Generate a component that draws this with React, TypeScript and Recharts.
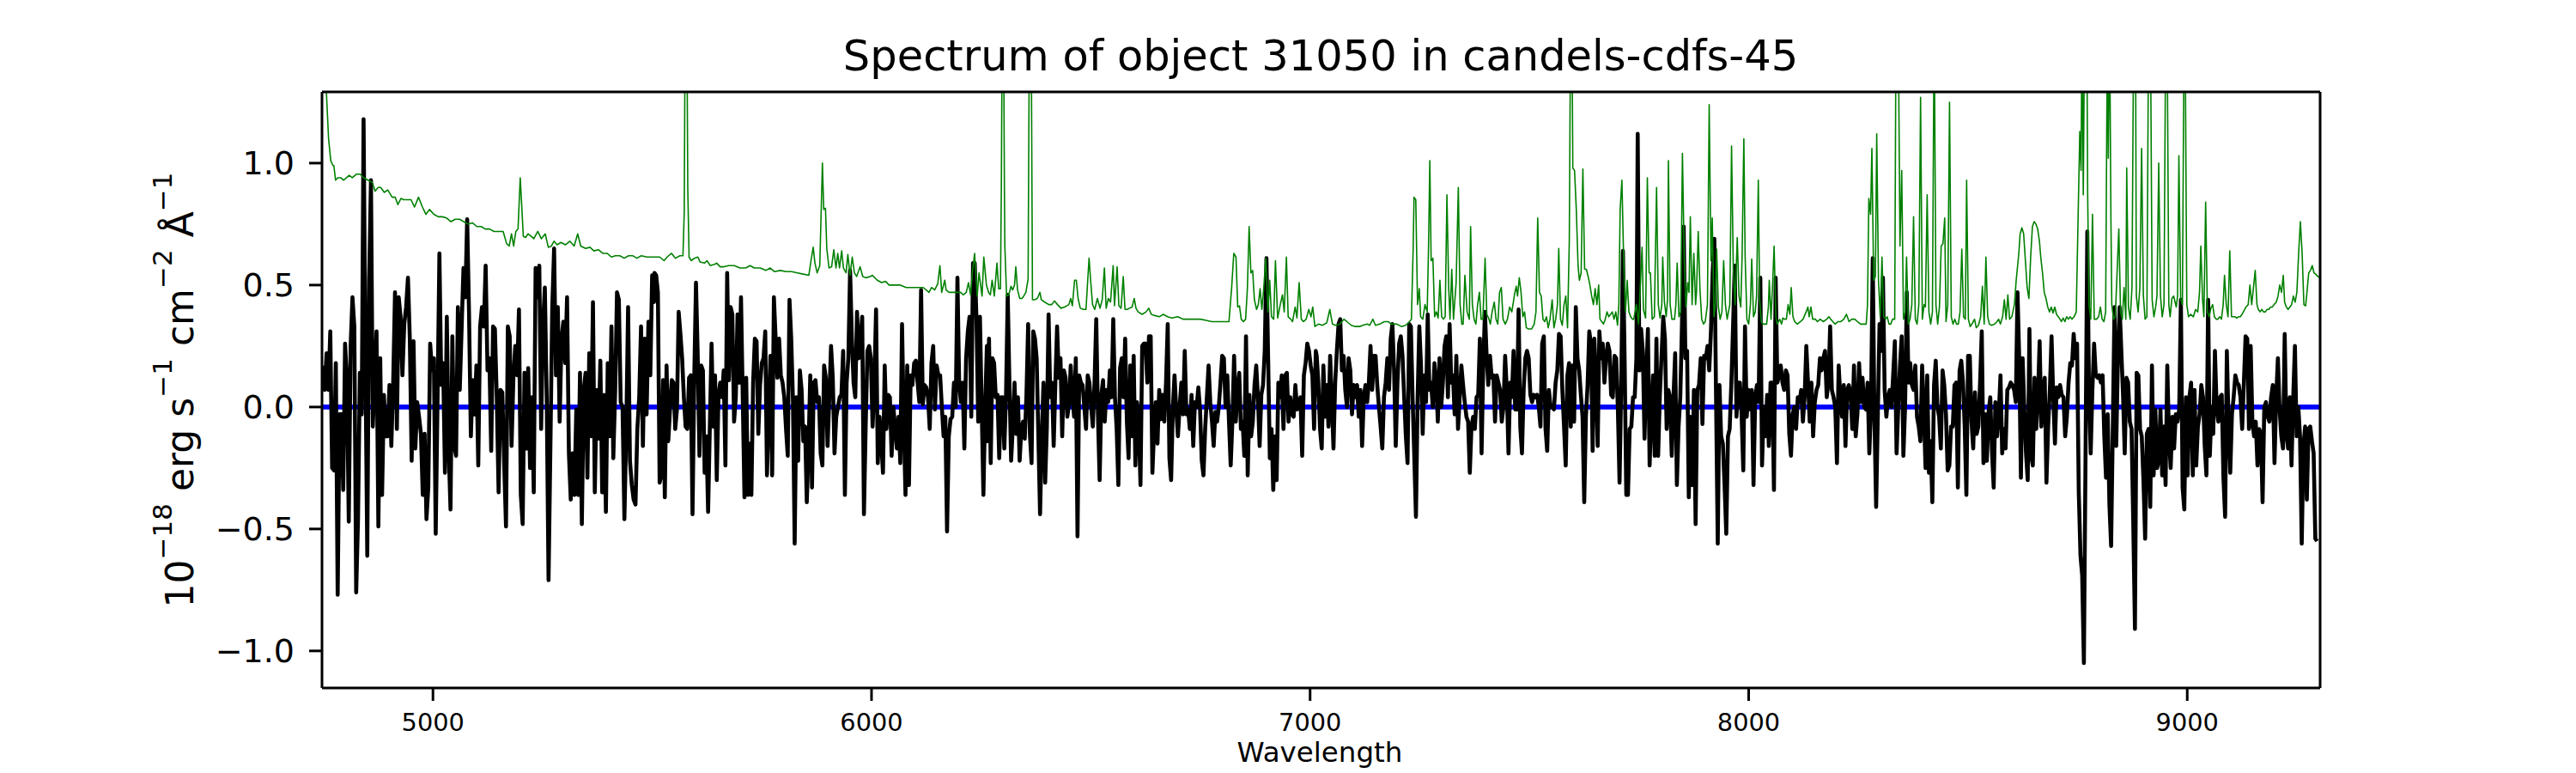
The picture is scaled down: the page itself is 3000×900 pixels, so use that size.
import { Line, LineChart, XAxis, YAxis } from 'recharts';

const FONT = '"DejaVu Sans", Verdana, sans-serif';

const X_RANGE = [4747, 9303];
const Y_RANGE = [-1.152, 1.292];
const X_TICKS = [5000, 6000, 7000, 8000, 9000];
const Y_TICKS = [-1, -0.5, 0, 0.5, 1];

// flux (black), read in six stretches; each stretch is sampled evenly over its span
const FLUX_SPANS = [
  [4749, 5504],
  [5505, 6263],
  [6264, 7013],
  [7015, 7744],
  [7747, 8512],
  [8516, 9296]
];

const FLUX_1 = [
  0.17, 0.07, 0.22, 0.07, 0.31, -0.25, -0.26, 0.18, -0.77, -0.03, -0.03, -0.34, 0.26, 0.12, -0.47, 0.25, 0.45, 0.33,
  -0.76, -0.46, 0.14, -0.03, 1.18, 0.2, -0.61, 0.52, 0.93, -0.08, 0.12, 0.31, -0.49, 0.2, -0.36, 0.05, -0.12, -0.12,
  0.09, -0.16, 0.1, 0.47, -0.09, 0.45, 0.37, 0.13, 0.34, 0.41, 0.53, 0.28, -0.22, 0.27, -0.17, 0.02, -0.04, -0.11,
  -0.36, -0.11, -0.46, -0.33, 0.26, 0.15, 0.2, -0.52, 0.04, 0.63, 0.09, 0.18, -0.27, 0.37, -0.17, -0.42, 0.29, -0.16,
  -0.2, 0.41, 0.07, 0.32, 0.57, 0.45, 0.77, 0.39, -0.12, 0.11, -0.03, 0.17, -0.24, 0.33, 0.41, 0.33, 0.58, 0.15, 0.2,
  -0.18, 0.33, 0.32, 0.04, -0.35, 0.07, 0.06, -0.23, -0.49, 0.33, 0.29, -0.16, 0.12, 0.25, 0.13, 0.4, -0.36, -0.48,
  0.14, -0.17, 0.16, -0.25, 0.04, -0.35, 0.57, 0.45, 0.58, -0.09, 0.34, 0.49, 0.04, -0.71, -0.16, 0.41, 0.65, 0.13,
  0.41, -0.06, 0.28, 0.35, 0.18, 0.45, -0.19, -0.38, -0.19, -0.36, -0.01, -0.36, 0.14, -0.48, 0.07, 0.14, -0.29, 0.22,
  -0.12, 0.43, -0.35, 0.07, -0.13, 0.19, -0.35, 0.05, -0.43, 0.18, -0.12, 0.33, -0.21, 0.06, 0.47, 0.44, 0.02, 0.0,
  -0.46, -0.1, 0.41, -0.22, -0.32, -0.38, -0.4, -0.09, 0.04, 0.33, -0.16, 0.28, -0.03, 0.35, 0.13, 0.54, 0.43
];

const FLUX_2 = [
  0.55, 0.54, 0.47, -0.31, -0.28, 0.11, -0.37, 0.17, -0.14, -0.01, 0.11, 0.1, -0.09, -0.01, 0.39, 0.3, 0.2, 0.04,
  -0.08, -0.09, 0.12, 0.13, -0.44, 0.12, 0.51, 0.21, -0.2, 0.17, 0.15, -0.27, -0.12, -0.43, -0.08, 0.26, -0.08, 0.13,
  -0.3, 0.05, 0.1, 0.04, 0.15, -0.24, 0.55, 0.11, 0.41, 0.38, -0.06, 0.04, 0.38, 0.1, 0.45, 0.04, -0.37, 0.12, -0.36,
  -0.15, -0.36, 0.1, 0.28, 0.27, -0.11, 0.09, 0.18, 0.2, 0.31, -0.28, -0.02, 0.21, -0.28, 0.45, 0.28, 0.12, 0.28, 0.13,
  0.1, 0.04, -0.09, -0.2, 0.44, 0.28, 0.03, -0.56, 0.04, -0.22, 0.15, 0.07, -0.14, -0.08, -0.39, -0.17, 0.13, -0.33,
  0.1, 0.11, 0.02, 0.04, -0.19, -0.24, 0.17, 0.12, -0.16, 0.04, 0.25, 0.12, -0.19, -0.04, 0.0, 0.04, 0.05, 0.23, -0.36,
  0.1, 0.2, 0.56, 0.29, 0.1, 0.04, 0.39, 0.2, 0.28, 0.37, -0.44, -0.08, 0.23, 0.25, 0.2, -0.08, 0.09, 0.4, -0.23,
  -0.04, -0.14, -0.27, 0.17, -0.09, 0.05, 0.04, -0.2, 0.0, -0.08, -0.17, -0.04, -0.23, 0.34, -0.06, -0.36, 0.17, -0.32,
  0.13, 0.09, 0.18, 0.19, 0.1, 0.02, 0.48, 0.01, 0.09, 0.08, 0.04, -0.09, 0.18, 0.25, -0.01, 0.17, 0.13, 0.13, 0.0,
  -0.12, -0.04, -0.51, -0.12, -0.05, -0.04, 0.1, 0.0, 0.53, 0.1, 0.02, 0.1, -0.17, 0.2, 0.31, 0.37, -0.04, 0.59, 0.59,
  0.36, -0.06, 0.37, 0.0, -0.36, 0.0, 0.25
];

const FLUX_3 = [
  -0.14, 0.28, -0.23, 0.2, 0.18, 0.04, 0.05, -0.21, 0.04, 0.04, -0.17, 0.05, 0.46, 0.1, -0.22, -0.08, 0.1, -0.11, 0.04,
  -0.22, -0.09, -0.06, -0.13, 0.05, 0.34, -0.11, -0.23, 0.31, 0.28, 0.2, -0.12, -0.44, -0.12, 0.1, -0.31, -0.08, 0.38,
  0.04, 0.1, -0.16, 0.1, 0.33, 0.12, 0.2, -0.12, 0.15, 0.12, -0.04, 0.01, 0.17, 0.04, -0.04, 0.2, -0.53, 0.13, 0.1,
  0.09, 0.0, -0.09, 0.13, 0.1, 0.0, -0.08, 0.1, 0.36, -0.03, -0.3, 0.05, 0.11, -0.06, 0.07, 0.02, 0.15, 0.04, 0.36,
  0.04, -0.09, -0.32, 0.16, 0.2, 0.04, 0.28, -0.06, -0.21, 0.17, -0.12, 0.21, -0.24, 0.02, -0.07, -0.32, 0.25, 0.26,
  0.26, 0.1, 0.29, 0.29, -0.27, -0.09, 0.02, -0.15, 0.07, -0.05, 0.05, -0.06, 0.1, 0.34, -0.21, -0.3, -0.01, 0.13,
  -0.01, -0.12, 0.0, 0.1, -0.03, 0.23, -0.03, -0.01, -0.09, 0.05, -0.16, 0.02, 0.0, 0.08, -0.01, -0.22, -0.28, -0.09,
  0.04, 0.17, 0.02, -0.06, -0.16, -0.02, -0.06, 0.0, 0.1, 0.21, 0.2, 0.0, 0.13, -0.06, -0.24, -0.06, 0.21, -0.06, 0.07,
  0.14, -0.09, -0.06, -0.2, 0.29, -0.28, 0.05, -0.12, -0.06, 0.09, 0.17, 0.04, -0.16, 0.05, 0.09, 0.23, 0.61, 0.2,
  -0.21, -0.09, -0.34, -0.12, -0.3, 0.1, 0.04, 0.13, -0.09, 0.13, 0.14, -0.06, 0.04, -0.03, -0.04, 0.09, -0.01, 0.0,
  0.04, -0.2, 0.13, 0.18, 0.26, 0.23, 0.17, 0.13, -0.09, 0.23
];

const FLUX_4 = [
  0.21, 0.1, -0.09, -0.17, 0.17, -0.04, 0.09, -0.08, 0.21, 0.02, -0.17, 0.1, 0.23, 0.34, 0.36, 0.15, 0.21, 0.07, 0.0,
  0.2, 0.15, -0.03, 0.09, 0.04, 0.09, -0.04, 0.07, -0.16, 0.04, 0.09, 0.02, 0.1, 0.25, 0.07, 0.21, 0.21, 0.09, 0.0,
  -0.08, -0.17, 0.04, 0.1, 0.2, 0.07, 0.28, 0.34, 0.15, -0.16, 0.1, 0.26, 0.29, 0.21, 0.04, -0.12, -0.23, 0.34, 0.33,
  0.04, -0.2, -0.45, 0.04, 0.33, 0.17, -0.11, 0.13, 0.02, 0.38, 0.07, 0.1, 0.0, 0.18, 0.1, -0.06, 0.2, 0.0, 0.1, 0.25,
  0.29, 0.04, 0.34, 0.1, 0.13, -0.03, 0.21, -0.09, 0.04, 0.17, 0.09, 0.02, -0.04, -0.06, -0.27, -0.08, -0.04, -0.09,
  0.04, 0.05, 0.28, -0.19, 0.17, 0.39, 0.21, 0.09, 0.21, 0.12, 0.13, -0.06, 0.13, 0.1, 0.07, -0.06, 0.0, 0.21, 0.07,
  -0.19, 0.1, 0.04, 0.23, -0.01, -0.01, 0.4, -0.08, -0.19, 0.07, 0.2, 0.23, 0.2, 0.05, 0.02, 0.05, 0.04, 0.05, 0.0,
  -0.08, 0.26, 0.29, -0.09, -0.18, 0.07, 0.0, 0.0, -0.01, 0.1, 0.15, 0.3, 0.29, 0.07, -0.08, -0.24, 0.13, 0.18, -0.08,
  0.17, -0.06, 0.41, 0.2, 0.15, 0.05, -0.04, -0.39, -0.04, 0.09, 0.31, 0.26, -0.18, 0.28, 0.12, -0.16, 0.31, 0.2, 0.26,
  0.1, 0.2, 0.26, 0.23, 0.05, 0.04, 0.21, 0.2, -0.01, -0.31, 0.1, 0.64, 0.2, -0.36, -0.36, -0.09, -0.08, 0.04, 0.04, 0.2
];

const FLUX_5 = [
  1.12, 0.15, 0.32, 0.23, -0.13, 0.13, 0.32, -0.24, -0.03, 0.13, -0.2, 0.28, -0.2, 0.05, 0.21, 0.37, 0.28, -0.09, 0.07,
  0.04, -0.2, 0.04, 0.22, -0.32, -0.08, 0.04, 0.34, 0.74, 0.2, 0.23, -0.37, -0.04, -0.32, 0.07, -0.48, 0.07, 0.09, 0.2,
  -0.07, 0.21, 0.2, 0.25, 0.15, 0.31, 0.55, 0.69, 0.04, -0.56, 0.09, -0.12, -0.15, -0.32, -0.52, -0.12, -0.09, 0.1,
  0.33, 0.58, -0.04, 0.1, 0.1, -0.03, -0.26, 0.33, -0.04, 0.07, -0.01, 0.07, -0.32, 0.04, 0.09, 0.02, 0.53, -0.24, 0.0,
  -0.12, 0.05, -0.16, 0.1, 0.1, -0.34, 0.53, 0.1, 0.13, 0.17, 0.1, 0.07, 0.15, 0.13, -0.11, -0.2, -0.03, 0.0, -0.09,
  0.04, 0.02, 0.07, -0.06, 0.04, 0.25, 0.1, -0.06, 0.1, -0.12, 0.02, 0.07, 0.09, 0.2, 0.15, 0.2, 0.23, 0.04, 0.1, 0.33,
  0.07, 0.04, 0.0, -0.23, 0.17, 0.04, -0.04, 0.09, -0.16, 0.07, 0.09, 0.05, -0.09, 0.17, -0.12, -0.03, 0.18, 0.02,
  0.12, 0.0, -0.01, 0.1, -0.19, 0.0, 0.61, -0.04, -0.41, -0.03, 0.34, 0.23, 0.53, 0.07, -0.04, 0.04, 0.07, 0.0, 0.13,
  0.27, -0.19, 0.0, 0.17, 0.29, -0.2, 0.0, 0.47, 0.1, 0.18, 0.09, 0.07, 0.17, -0.04, -0.08, -0.14, 0.17, -0.01, -0.25,
  0.13, -0.27, -0.14, -0.39, 0.09, 0.19, 0.0, -0.04, -0.17, 0.15, 0.09, -0.03, -0.26, -0.24, -0.08, -0.08, 0.09, 0.1,
  -0.33, 0.15, 0.19, 0.1, -0.08, -0.36, 0.21, 0.21, -0.06, -0.17
];

const FLUX_6 = [
  0.06, -0.11, -0.08, 0.1, 0.31, -0.23, -0.03, -0.22, -0.02, 0.04, -0.18, -0.33, 0.02, -0.12, -0.03, 0.13, -0.19,
  -0.09, -0.17, 0.07, 0.08, 0.1, 0.09, 0.07, 0.02, 0.47, 0.2, -0.29, 0.2, -0.01, -0.19, -0.3, 0.32, -0.2, -0.24, 0.12,
  -0.09, 0.04, 0.27, -0.08, 0.07, 0.12, -0.31, -0.08, 0.07, 0.29, 0.04, -0.15, 0.08, 0.04, 0.09, 0.05, 0.04, -0.12,
  -0.04, 0.1, 0.18, 0.17, 0.3, 0.2, 0.26, -0.35, -0.61, -0.69, -1.05, -0.17, 0.72, 0.07, -0.19, 0.07, 0.26, 0.13, 0.12,
  0.13, 0.1, 0.13, -0.12, -0.29, -0.03, -0.4, -0.57, -0.08, 0.41, -0.16, 0.2, 0.41, 0.23, 0.05, -0.19, 0.12, 0.1,
  -0.06, -0.09, -0.47, -0.91, 0.14, 0.13, -0.09, -0.12, -0.3, -0.54, -0.11, -0.09, -0.41, 0.17, -0.28, -0.01, -0.25,
  -0.22, -0.01, -0.28, -0.08, -0.32, 0.17, -0.12, -0.25, -0.04, -0.17, -0.03, -0.06, -0.01, 0.44, -0.33, -0.42, 0.04,
  -0.28, 0.04, 0.1, -0.28, 0.07, -0.24, -0.08, -0.03, 0.09, 0.04, -0.16, -0.28, 0.44, -0.2, 0.0, -0.11, 0.23, 0.0,
  -0.06, 0.04, 0.05, -0.29, -0.45, 0.23, -0.06, -0.27, -0.03, 0.04, 0.13, 0.1, 0.09, 0.04, -0.09, 0.1, 0.29, 0.28,
  -0.09, 0.25, -0.06, -0.12, -0.06, -0.24, -0.09, -0.11, -0.39, 0.0, 0.02, -0.04, -0.06, 0.04, 0.09, -0.23, 0.04, 0.2,
  -0.01, -0.12, -0.17, 0.3, -0.11, -0.17, 0.04, -0.24, 0.04, 0.25, -0.12, 0.0, -0.12, -0.56, -0.16, -0.08, -0.38,
  -0.09, -0.08, -0.14, -0.19, -0.54, -0.55
];

// noise / sky spectrum (green), [wavelength, value]
const SKY_1 = [
  [4747, 1.6], [4757, 1.29], [4762, 1.1], [4767, 1.01], [4772, 0.99], [4774, 0.99], [4778, 0.93], [4783, 0.94],
  [4790, 0.94], [4796, 0.93], [4803, 0.94], [4809, 0.95], [4816, 0.94], [4826, 0.955], [4834, 0.955], [4842, 0.94],
  [4852, 0.93], [4862, 0.92], [4868, 0.885], [4875, 0.9], [4881, 0.9], [4889, 0.88], [4897, 0.89], [4907, 0.86],
  [4914, 0.86], [4920, 0.83], [4927, 0.855], [4933, 0.85], [4940, 0.85], [4950, 0.85], [4958, 0.82], [4967, 0.86],
  [4976, 0.82], [4984, 0.79], [4992, 0.81], [5002, 0.79], [5012, 0.78], [5021, 0.78], [5031, 0.775], [5041, 0.76],
  [5051, 0.77], [5061, 0.77], [5070, 0.76], [5080, 0.75], [5090, 0.755], [5100, 0.74], [5110, 0.74], [5119, 0.73],
  [5129, 0.73], [5139, 0.72], [5149, 0.72], [5160, 0.72], [5168, 0.67], [5174, 0.66], [5179, 0.71], [5184, 0.66],
  [5189, 0.72], [5194, 0.73], [5199, 0.94], [5202, 0.84], [5206, 0.7], [5211, 0.695], [5217, 0.71], [5224, 0.7],
  [5230, 0.69], [5239, 0.72], [5247, 0.69], [5256, 0.71], [5263, 0.655], [5270, 0.66], [5276, 0.68], [5283, 0.665],
  [5292, 0.675], [5302, 0.665], [5312, 0.68], [5322, 0.66], [5330, 0.71], [5337, 0.66], [5348, 0.65], [5358, 0.655],
  [5367, 0.64], [5377, 0.645], [5387, 0.63], [5397, 0.63], [5407, 0.615], [5416, 0.62], [5426, 0.62], [5436, 0.61],
  [5446, 0.62], [5456, 0.62], [5465, 0.61], [5475, 0.62], [5488, 0.615], [5501, 0.615]
];

const SKY_2 = [
  [5517, 0.615], [5527, 0.6], [5534, 0.615], [5544, 0.63], [5553, 0.61], [5563, 0.62], [5570, 0.62], [5573, 0.8],
  [5575, 1.6], [5577, 1.6], [5579, 1.6], [5581, 0.9], [5584, 0.615], [5589, 0.6], [5596, 0.61], [5604, 0.615],
  [5609, 0.595], [5619, 0.59], [5625, 0.6], [5632, 0.58], [5642, 0.585], [5647, 0.59], [5655, 0.575], [5664, 0.575],
  [5674, 0.58], [5687, 0.58], [5700, 0.57], [5713, 0.57], [5723, 0.58], [5733, 0.57], [5746, 0.57], [5759, 0.56],
  [5769, 0.57], [5779, 0.555], [5792, 0.56], [5805, 0.555], [5818, 0.555], [5831, 0.55], [5844, 0.545], [5857, 0.54],
  [5862, 0.6], [5867, 0.655], [5871, 0.59], [5876, 0.55], [5882, 0.58], [5885, 0.79], [5888, 1.0], [5891, 0.81],
  [5895, 0.815], [5898, 0.65], [5903, 0.57], [5909, 0.575], [5914, 0.645], [5919, 0.57], [5923, 0.63], [5927, 0.57],
  [5932, 0.64], [5936, 0.57], [5942, 0.55], [5946, 0.625], [5951, 0.54], [5956, 0.615], [5961, 0.55], [5966, 0.535],
  [5974, 0.575], [5980, 0.535], [5987, 0.53], [5997, 0.535], [6002, 0.54], [6013, 0.52], [6023, 0.51], [6032, 0.515],
  [6040, 0.5], [6053, 0.5], [6066, 0.5], [6079, 0.49], [6092, 0.49], [6105, 0.49], [6118, 0.49], [6131, 0.47],
  [6137, 0.49], [6144, 0.48], [6151, 0.505], [6156, 0.58], [6160, 0.47], [6167, 0.52], [6170, 0.48], [6177, 0.47],
  [6186, 0.47], [6196, 0.47], [6203, 0.47], [6209, 0.46], [6216, 0.47], [6221, 0.51], [6226, 0.46], [6230, 0.55],
  [6235, 0.63], [6241, 0.455], [6245, 0.55], [6252, 0.455], [6256, 0.615], [6262, 0.5]
];

const SKY_3 = [
  [6267, 0.47], [6271, 0.46], [6275, 0.52], [6280, 0.455], [6286, 0.59], [6290, 0.485], [6294, 0.485], [6296, 0.9],
  [6298, 1.6], [6301, 1.6], [6303, 0.9], [6304, 0.66], [6308, 0.455], [6313, 0.46], [6318, 0.495], [6322, 0.48],
  [6326, 0.5], [6329, 0.575], [6333, 0.48], [6338, 0.445], [6343, 0.445], [6347, 0.455], [6352, 0.47], [6357, 0.525],
  [6360, 1.6], [6364, 1.6], [6367, 0.44], [6372, 0.44], [6378, 0.445], [6384, 0.47], [6387, 0.44], [6395, 0.43],
  [6404, 0.42], [6411, 0.42], [6417, 0.435], [6424, 0.42], [6432, 0.405], [6440, 0.41], [6450, 0.42], [6454, 0.445],
  [6458, 0.415], [6463, 0.52], [6467, 0.52], [6471, 0.445], [6476, 0.405], [6483, 0.4], [6489, 0.4], [6496, 0.61],
  [6500, 0.51], [6504, 0.42], [6509, 0.4], [6515, 0.445], [6521, 0.405], [6526, 0.44], [6531, 0.57], [6535, 0.405],
  [6540, 0.445], [6545, 0.43], [6551, 0.58], [6554, 0.415], [6560, 0.575], [6564, 0.415], [6569, 0.405], [6574, 0.535],
  [6578, 0.4], [6583, 0.4], [6588, 0.405], [6594, 0.41], [6599, 0.445], [6603, 0.405], [6608, 0.39], [6617, 0.38],
  [6626, 0.39], [6632, 0.405], [6638, 0.38], [6646, 0.375], [6656, 0.37], [6665, 0.38], [6675, 0.37], [6685, 0.365],
  [6698, 0.37], [6711, 0.36], [6724, 0.36], [6737, 0.36], [6750, 0.36], [6763, 0.355], [6776, 0.35], [6789, 0.35],
  [6802, 0.35], [6815, 0.35], [6821, 0.485], [6826, 0.63], [6831, 0.615], [6835, 0.41], [6839, 0.415], [6843, 0.36],
  [6848, 0.35], [6853, 0.36], [6857, 0.485], [6861, 0.74], [6865, 0.55], [6869, 0.56], [6873, 0.44], [6878, 0.4],
  [6882, 0.42], [6886, 0.485], [6890, 0.4], [6894, 0.48], [6899, 0.61], [6904, 0.39], [6908, 0.52], [6912, 0.37],
  [6917, 0.36], [6921, 0.6], [6926, 0.365], [6932, 0.42], [6937, 0.46], [6941, 0.39], [6946, 0.615], [6950, 0.37],
  [6956, 0.36], [6960, 0.35], [6966, 0.41], [6970, 0.365], [6975, 0.51], [6980, 0.36], [6985, 0.35], [6991, 0.36],
  [6997, 0.4], [7002, 0.37], [7006, 0.41], [7011, 0.33]
];

const SKY_4 = [
  [7019, 0.34], [7028, 0.335], [7038, 0.345], [7045, 0.4], [7051, 0.34], [7058, 0.335], [7068, 0.34], [7077, 0.36],
  [7084, 0.35], [7094, 0.335], [7103, 0.33], [7113, 0.33], [7120, 0.335], [7130, 0.34], [7136, 0.335], [7143, 0.36],
  [7149, 0.335], [7159, 0.34], [7169, 0.35], [7178, 0.35], [7185, 0.34], [7198, 0.34], [7208, 0.33], [7218, 0.335],
  [7224, 0.345], [7231, 0.36], [7235, 0.65], [7237, 0.86], [7241, 0.85], [7245, 0.42], [7249, 0.485], [7252, 0.37],
  [7257, 0.36], [7262, 0.42], [7267, 0.39], [7270, 0.65], [7273, 1.01], [7276, 0.6], [7280, 0.61], [7284, 0.37],
  [7288, 0.39], [7292, 0.365], [7296, 0.52], [7300, 0.37], [7304, 0.36], [7308, 0.37], [7312, 0.87], [7316, 0.49],
  [7319, 0.36], [7323, 0.565], [7327, 0.36], [7333, 0.51], [7338, 0.9], [7342, 0.42], [7346, 0.34], [7349, 0.34],
  [7353, 0.54], [7358, 0.39], [7363, 0.36], [7366, 0.74], [7370, 0.42], [7374, 0.36], [7378, 0.34], [7382, 0.42],
  [7386, 0.47], [7390, 0.36], [7394, 0.36], [7399, 0.61], [7403, 0.38], [7407, 0.365], [7411, 0.34], [7415, 0.39],
  [7420, 0.43], [7424, 0.36], [7428, 0.34], [7432, 0.47], [7436, 0.49], [7440, 0.36], [7445, 0.34], [7450, 0.36],
  [7455, 0.41], [7460, 0.39], [7466, 0.46], [7470, 0.495], [7473, 0.455], [7477, 0.53], [7481, 0.47], [7485, 0.37],
  [7489, 0.39], [7493, 0.325], [7498, 0.32], [7505, 0.32], [7511, 0.34], [7515, 0.39], [7519, 0.775], [7523, 0.47],
  [7527, 0.455], [7531, 0.36], [7535, 0.35], [7539, 0.37], [7543, 0.325], [7547, 0.36], [7552, 0.44], [7556, 0.325],
  [7560, 0.36], [7564, 0.42], [7567, 0.65], [7571, 0.36], [7575, 0.335], [7579, 0.42], [7583, 0.455], [7587, 0.325],
  [7591, 0.68], [7594, 1.6], [7597, 1.6], [7599, 0.98], [7603, 0.97], [7607, 0.81], [7611, 0.58], [7614, 0.52],
  [7618, 0.55], [7622, 0.976], [7626, 0.565], [7630, 0.565], [7634, 0.535], [7638, 0.5], [7642, 0.455], [7646, 0.42],
  [7650, 0.485], [7654, 0.42], [7658, 0.5], [7661, 0.36], [7665, 0.35], [7669, 0.34], [7673, 0.36], [7677, 0.39],
  [7681, 0.37], [7685, 0.38], [7689, 0.39], [7693, 0.36], [7697, 0.39], [7701, 0.335], [7704, 0.42], [7707, 0.81],
  [7711, 0.93], [7715, 0.6], [7719, 0.39], [7723, 0.52], [7727, 0.39], [7731, 0.37], [7735, 0.36], [7738, 0.36],
  [7744, 0.42], [7749, 0.34], [7753, 0.5], [7757, 0.655], [7760, 0.4]
];

const SKY_5 = [
  [7765, 0.365], [7769, 0.94], [7773, 0.55], [7776, 0.55], [7780, 0.36], [7785, 0.37], [7790, 0.9], [7794, 0.42],
  [7798, 0.365], [7802, 0.42], [7804, 0.615], [7808, 0.43], [7812, 0.37], [7815, 0.44], [7817, 1.01], [7821, 0.42],
  [7825, 0.36], [7831, 0.36], [7834, 0.42], [7837, 0.59], [7841, 0.37], [7845, 0.39], [7849, 1.04], [7853, 0.615],
  [7857, 0.41], [7861, 0.51], [7864, 0.47], [7867, 0.78], [7871, 0.42], [7875, 0.63], [7879, 0.42], [7881, 0.47],
  [7885, 0.72], [7889, 0.48], [7893, 0.36], [7897, 0.34], [7901, 0.35], [7906, 0.42], [7910, 1.24], [7914, 0.6],
  [7917, 0.775], [7921, 0.37], [7924, 0.42], [7927, 0.647], [7931, 0.41], [7935, 0.36], [7939, 0.39], [7943, 0.6],
  [7947, 0.42], [7951, 0.36], [7957, 0.42], [7961, 1.07], [7965, 0.57], [7969, 0.42], [7974, 0.695], [7978, 0.455],
  [7982, 0.41], [7985, 0.615], [7989, 1.1], [7992, 0.615], [7996, 0.36], [8000, 0.34], [8004, 0.42], [8007, 0.607],
  [8011, 0.37], [8015, 0.39], [8018, 0.455], [8022, 0.93], [8025, 0.44], [8029, 0.35], [8033, 0.34], [8037, 0.34],
  [8041, 0.34], [8045, 0.41], [8047, 0.52], [8051, 0.36], [8055, 0.52], [8058, 0.66], [8062, 0.37], [8065, 0.34],
  [8071, 0.36], [8075, 0.34], [8078, 0.365], [8082, 0.36], [8086, 0.36], [8090, 0.42], [8094, 0.38], [8097, 0.49],
  [8101, 0.37], [8105, 0.35], [8111, 0.34], [8118, 0.35], [8124, 0.36], [8131, 0.39], [8135, 0.41], [8138, 0.37],
  [8142, 0.41], [8146, 0.36], [8152, 0.36], [8157, 0.35], [8163, 0.36], [8170, 0.35], [8178, 0.36], [8183, 0.37],
  [8187, 0.36], [8192, 0.35], [8197, 0.34], [8204, 0.35], [8210, 0.35], [8217, 0.36], [8223, 0.38], [8229, 0.35],
  [8235, 0.36], [8242, 0.36], [8248, 0.35], [8255, 0.34], [8261, 0.34], [8268, 0.34], [8271, 0.42], [8274, 0.855],
  [8278, 0.79], [8281, 1.06], [8285, 0.52], [8289, 0.535], [8292, 1.12], [8296, 0.52], [8300, 0.37], [8304, 0.615],
  [8308, 0.37], [8312, 0.36], [8316, 0.37], [8320, 0.34], [8324, 0.34], [8328, 0.36], [8333, 0.36], [8336, 1.6],
  [8341, 1.6], [8345, 0.66], [8349, 0.97], [8353, 0.36], [8357, 0.39], [8360, 0.615], [8364, 0.34], [8368, 0.36],
  [8372, 0.42], [8376, 0.78], [8380, 0.36], [8384, 0.34], [8388, 0.42], [8392, 1.27], [8396, 0.36], [8400, 0.42],
  [8403, 0.41], [8407, 0.87], [8411, 0.39], [8415, 0.34], [8419, 0.39], [8423, 1.6], [8427, 0.42], [8431, 0.34],
  [8435, 0.41], [8439, 0.66], [8443, 0.67], [8447, 0.775], [8450, 0.35], [8454, 0.42], [8458, 1.25], [8462, 0.37],
  [8466, 0.34], [8470, 0.36], [8474, 0.34], [8478, 0.34], [8482, 0.39], [8486, 0.647], [8490, 0.37], [8494, 0.36],
  [8497, 0.93], [8501, 0.36], [8505, 0.33], [8509, 0.34]
];

const SKY_6 = [
  [8515, 0.36], [8519, 0.325], [8524, 0.335], [8529, 0.37], [8533, 0.495], [8537, 0.34], [8541, 0.615], [8545, 0.37],
  [8549, 0.34], [8554, 0.335], [8561, 0.34], [8566, 0.35], [8570, 0.36], [8574, 0.34], [8579, 0.37], [8583, 0.44],
  [8587, 0.36], [8591, 0.46], [8595, 0.36], [8600, 0.37], [8606, 0.42], [8610, 0.52], [8616, 0.63], [8619, 0.71],
  [8623, 0.735], [8627, 0.71], [8631, 0.6], [8635, 0.49], [8639, 0.445], [8643, 0.615], [8647, 0.74], [8651, 0.76],
  [8655, 0.75], [8659, 0.73], [8663, 0.68], [8666, 0.615], [8670, 0.55], [8674, 0.47], [8678, 0.445], [8682, 0.41],
  [8686, 0.39], [8690, 0.41], [8694, 0.385], [8698, 0.41], [8702, 0.38], [8706, 0.37], [8710, 0.36], [8713, 0.35],
  [8717, 0.365], [8721, 0.35], [8725, 0.37], [8729, 0.36], [8733, 0.37], [8737, 0.36], [8742, 0.37], [8747, 0.39],
  [8751, 0.76], [8755, 1.13], [8758, 0.97], [8760, 1.6], [8763, 0.87], [8766, 1.6], [8768, 1.6], [8771, 1.6],
  [8773, 0.87], [8776, 0.42], [8780, 0.36], [8784, 0.79], [8788, 0.36], [8793, 0.36], [8798, 0.37], [8802, 0.41],
  [8806, 0.36], [8810, 0.35], [8814, 0.39], [8818, 1.6], [8820, 1.02], [8823, 1.6], [8826, 0.77], [8828, 0.42],
  [8832, 0.36], [8836, 0.37], [8840, 0.55], [8844, 0.73], [8848, 0.39], [8852, 0.36], [8856, 0.49], [8860, 0.36],
  [8862, 0.98], [8866, 0.41], [8870, 0.36], [8874, 0.49], [8878, 1.6], [8882, 1.6], [8884, 0.455], [8888, 0.39],
  [8892, 0.49], [8896, 1.06], [8900, 0.455], [8904, 0.36], [8908, 0.37], [8912, 1.6], [8916, 1.6], [8920, 0.44],
  [8924, 0.37], [8928, 0.41], [8931, 0.455], [8935, 1.0], [8939, 0.455], [8943, 0.37], [8947, 0.42], [8951, 1.6],
  [8954, 1.6], [8958, 0.42], [8961, 0.37], [8965, 0.445], [8969, 0.455], [8975, 0.41], [8978, 0.455], [8981, 1.03],
  [8985, 0.44], [8989, 0.42], [8993, 1.6], [8995, 1.6], [8999, 0.42], [9003, 0.37], [9008, 0.38], [9014, 0.37],
  [9019, 0.4], [9024, 0.39], [9028, 0.47], [9031, 0.66], [9035, 0.44], [9038, 0.37], [9042, 0.84], [9046, 0.39],
  [9050, 0.37], [9054, 0.405], [9058, 0.42], [9062, 0.37], [9066, 0.36], [9070, 0.36], [9074, 0.37], [9078, 0.36],
  [9082, 0.42], [9085, 0.54], [9089, 0.42], [9093, 0.37], [9097, 0.64], [9101, 0.37], [9105, 0.37], [9109, 0.37],
  [9113, 0.365], [9117, 0.37], [9121, 0.37], [9125, 0.38], [9128, 0.39], [9134, 0.41], [9139, 0.42], [9143, 0.5],
  [9147, 0.42], [9151, 0.49], [9155, 0.56], [9159, 0.42], [9162, 0.4], [9166, 0.39], [9170, 0.4], [9174, 0.39],
  [9178, 0.39], [9182, 0.4], [9186, 0.4], [9190, 0.41], [9194, 0.41], [9198, 0.42], [9203, 0.43], [9207, 0.455],
  [9211, 0.5], [9215, 0.47], [9219, 0.54], [9222, 0.43], [9226, 0.41], [9230, 0.4], [9234, 0.41], [9238, 0.42],
  [9242, 0.455], [9246, 0.43], [9250, 0.47], [9254, 0.63], [9258, 0.76], [9262, 0.63], [9266, 0.42], [9270, 0.415],
  [9273, 0.47], [9277, 0.55], [9281, 0.56], [9285, 0.58], [9289, 0.55], [9293, 0.545], [9298, 0.535], [9303, 0.53]
];

// the zero level (blue)
const ZERO_LEVEL = [
  [4747, 0],
  [9303, 0]
];

const FLUX_PARTS = [FLUX_1, FLUX_2, FLUX_3, FLUX_4, FLUX_5, FLUX_6];
const SKY_PARTS = [SKY_1, SKY_2, SKY_3, SKY_4, SKY_5, SKY_6];

const fluxData = FLUX_PARTS.flatMap((vals, i) => {
  const [start, end] = FLUX_SPANS[i];
  const step = (end - start) / (vals.length - 1);
  return vals.map((f, j) => ({ w: start + j * step, f }));
});
const skyData = SKY_PARTS.flat().map(([w, f]) => ({ w, f }));
const zeroData = ZERO_LEVEL.map(([w, f]) => ({ w, f }));

const AXIS = { stroke: '#000', strokeWidth: 3 };

const fmtY = (v: number) => (v < 0 ? '\u2212' : '') + Math.abs(v).toFixed(1);

function Labels() {
  const sup = 31;
  const lift = 25;
  return (
    <svg
      width={3000}
      height={900}
      style={{ position: 'absolute', left: 0, top: 0, pointerEvents: 'none' }}
      fontFamily={FONT}
      fill="#000"
    >
      <text x={1538} y={82} fontSize={49.5} textAnchor="middle">
        Spectrum of object 31050 in candels-cdfs-45
      </text>
      <text x={1537} y={887} fontSize={32.5} textAnchor="middle">
        Wavelength
      </text>
      <text transform="translate(225 454) rotate(-90)" fontSize={44} textAnchor="middle">
        <tspan>10</tspan>
        <tspan dy={-lift} fontSize={sup}>{'\u221218'}</tspan>
        <tspan dy={lift}>{' erg s'}</tspan>
        <tspan dy={-lift} fontSize={sup}>{'\u22121'}</tspan>
        <tspan dy={lift}>{' cm'}</tspan>
        <tspan dy={-lift} fontSize={sup}>{'\u22122'}</tspan>
        <tspan dy={lift}>{' \u00c5'}</tspan>
        <tspan dy={-lift} fontSize={sup}>{'\u22121'}</tspan>
      </text>
    </svg>
  );
}

export default function App() {
  return (
    <div style={{ position: 'relative', width: 3000, height: 900, background: '#fff' }}>
      <style>{'body { margin: 0; }'}</style>
      <LineChart width={3000} height={900} margin={{ top: 106, right: 297, bottom: 39, left: 275 }}>
        <XAxis
          dataKey="w"
          type="number"
          domain={X_RANGE}
          ticks={X_TICKS}
          allowDataOverflow
          height={60}
          tickSize={15}
          tickMargin={15}
          axisLine={AXIS}
          tickLine={AXIS}
          tick={{ fill: '#000', fontSize: 28.8, fontFamily: FONT }}
        />
        <XAxis
          xAxisId="top"
          orientation="top"
          dataKey="w"
          type="number"
          domain={X_RANGE}
          allowDataOverflow
          height={1}
          tick={false}
          tickLine={false}
          axisLine={AXIS}
        />
        <YAxis
          type="number"
          domain={Y_RANGE}
          ticks={Y_TICKS}
          allowDataOverflow
          width={100}
          tickSize={15}
          tickMargin={17}
          tickFormatter={fmtY}
          axisLine={AXIS}
          tickLine={AXIS}
          tick={{ fill: '#000', fontSize: 38, fontFamily: FONT }}
        />
        <YAxis
          yAxisId="right"
          orientation="right"
          type="number"
          domain={Y_RANGE}
          allowDataOverflow
          width={1}
          tick={false}
          tickLine={false}
          axisLine={AXIS}
        />
        <Line
          data={zeroData}
          dataKey="f"
          type="linear"
          stroke="#0000ff"
          strokeWidth={5.6}
          dot={false}
          activeDot={false}
          isAnimationActive={false}
        />
        <Line
          data={fluxData}
          dataKey="f"
          type="linear"
          stroke="#000000"
          strokeWidth={4.6}
          strokeLinejoin="round"
          dot={false}
          activeDot={false}
          isAnimationActive={false}
        />
        <Line
          data={skyData}
          dataKey="f"
          type="linear"
          stroke="#008000"
          strokeWidth={1.6}
          strokeLinejoin="round"
          dot={false}
          activeDot={false}
          isAnimationActive={false}
        />
      </LineChart>
      <Labels />
    </div>
  );
}
